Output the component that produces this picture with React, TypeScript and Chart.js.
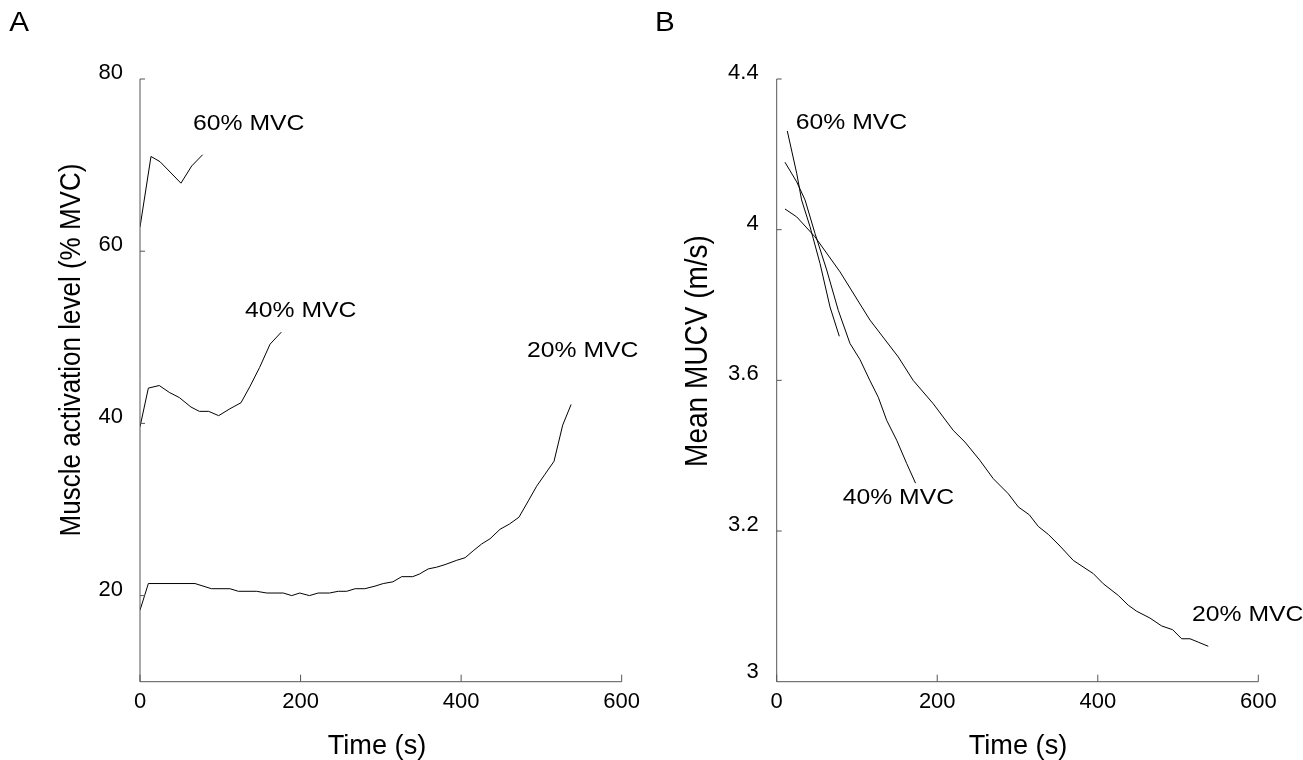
import React, { useEffect, useRef } from 'react';
import { Chart, registerables } from 'chart.js';

Chart.register(...registerables);

type Pt = { x: number; y: number };

// ---------- Data ----------
const seriesLabels = ['60% MVC', '40% MVC', '20% MVC'];
const timeTicks = [0, 200, 400, 600];

// Panel A: Muscle activation level (% MVC) vs time (s)
const activation60: Pt[] = [
  { x: 0, y: 62.8 }, { x: 13.7, y: 71.0 }, { x: 24.9, y: 70.4 }, { x: 51, y: 67.9 },
  { x: 64.4, y: 69.9 }, { x: 78, y: 71.2 },
];
const activation40: Pt[] = [
  { x: 0, y: 39.6 }, { x: 10.4, y: 44.1 }, { x: 24, y: 44.4 }, { x: 36.5, y: 43.6 },
  { x: 49, y: 43.0 }, { x: 63.5, y: 41.9 }, { x: 73.9, y: 41.4 }, { x: 85.5, y: 41.4 },
  { x: 98, y: 40.9 }, { x: 112, y: 41.7 }, { x: 125.8, y: 42.4 }, { x: 137, y: 44.3 },
  { x: 149, y: 46.5 }, { x: 162, y: 49.2 }, { x: 176, y: 50.6 },
];
const activation20: Pt[] = [
  { x: 0, y: 18.3 }, { x: 10.4, y: 21.4 }, { x: 68.5, y: 21.4 }, { x: 89, y: 20.8 },
  { x: 112, y: 20.8 }, { x: 122.5, y: 20.5 }, { x: 145, y: 20.5 }, { x: 158, y: 20.3 },
  { x: 178.5, y: 20.3 }, { x: 189, y: 20.0 }, { x: 199, y: 20.3 }, { x: 211, y: 20.0 },
  { x: 222, y: 20.3 }, { x: 236, y: 20.3 }, { x: 247, y: 20.5 }, { x: 257.5, y: 20.5 },
  { x: 268, y: 20.8 }, { x: 280, y: 20.8 }, { x: 292.7, y: 21.1 }, { x: 303, y: 21.4 },
  { x: 315, y: 21.6 }, { x: 326, y: 22.2 }, { x: 339.7, y: 22.2 }, { x: 348, y: 22.5 },
  { x: 359, y: 23.1 }, { x: 369.5, y: 23.3 }, { x: 380, y: 23.6 }, { x: 394.5, y: 24.1 },
  { x: 405, y: 24.4 }, { x: 415, y: 25.2 }, { x: 425.6, y: 26.0 }, { x: 436, y: 26.6 },
  { x: 448.4, y: 27.7 }, { x: 460, y: 28.3 }, { x: 472, y: 29.1 }, { x: 483.7, y: 31.0 },
  { x: 494, y: 32.7 }, { x: 504.5, y: 34.1 }, { x: 515.7, y: 35.6 }, { x: 526.5, y: 39.8 },
  { x: 537, y: 42.2 },
];
const yTickValuesA = [20, 40, 60, 80];
const yTickLabelsA = ['20', '40', '60', '80'];
const yTickMarksA = [20, 40, 60, 80];

// Panel B: Mean MUCV (m/s) vs time (s)
const mucv60: Pt[] = [
  { x: 13.2, y: 4.262 }, { x: 24.9, y: 4.15 }, { x: 31, y: 4.079 }, { x: 41.5, y: 4.008 },
  { x: 54, y: 3.91 }, { x: 66.4, y: 3.795 }, { x: 78, y: 3.717 },
];
const mucv40: Pt[] = [
  { x: 10.3, y: 4.179 }, { x: 24.9, y: 4.127 }, { x: 35.3, y: 4.079 }, { x: 47.7, y: 3.99 },
  { x: 62.3, y: 3.893 }, { x: 76.7, y: 3.786 }, { x: 91.3, y: 3.698 }, { x: 103.8, y: 3.655 },
  { x: 116, y: 3.6 }, { x: 126.6, y: 3.555 }, { x: 137, y: 3.494 }, { x: 149.5, y: 3.441 },
  { x: 162, y: 3.379 }, { x: 173, y: 3.327 },
];
const mucv20: Pt[] = [
  { x: 10.3, y: 4.055 }, { x: 24.9, y: 4.034 }, { x: 47.7, y: 3.981 }, { x: 78.9, y: 3.888 },
  { x: 116.2, y: 3.76 }, { x: 151.5, y: 3.662 }, { x: 170, y: 3.6 }, { x: 195, y: 3.538 },
  { x: 220, y: 3.467 }, { x: 234.6, y: 3.436 }, { x: 253, y: 3.388 }, { x: 269.8, y: 3.339 },
  { x: 288.5, y: 3.299 }, { x: 301, y: 3.264 }, { x: 314.7, y: 3.243 }, { x: 326, y: 3.212 },
  { x: 338.4, y: 3.191 }, { x: 353, y: 3.16 }, { x: 369.5, y: 3.122 }, { x: 394.4, y: 3.087 },
  { x: 406.9, y: 3.06 }, { x: 425.6, y: 3.029 }, { x: 438, y: 3.003 }, { x: 448.5, y: 2.987 },
  { x: 465, y: 2.969 }, { x: 479.6, y: 2.948 }, { x: 493.3, y: 2.938 }, { x: 504.5, y: 2.914 },
  { x: 514.9, y: 2.914 }, { x: 525.2, y: 2.905 }, { x: 537.7, y: 2.894 },
];
const yTickValuesB = [2.81, 3.2, 3.6, 4, 4.4];
const yTickLabelsB = ['3', '3.2', '3.6', '4', '4.4'];
const yTickMarksB = [3.2, 3.6, 4, 4.4];

// ---------- Styling / layout ----------
const FONT = '"Liberation Sans", Arial, Helvetica, sans-serif';
const STRETCH = 1.1;
const H = 760;

function drawText(
  ctx: CanvasRenderingContext2D, text: string, x: number, y: number, size: number,
  align: CanvasTextAlign, baseline: CanvasTextBaseline, stretch: number, rotate = false,
) {
  ctx.save();
  ctx.translate(x, y);
  ctx.scale(stretch, 1);
  if (rotate) ctx.rotate(-Math.PI / 2);
  ctx.font = `${size}px ${FONT}`;
  ctx.fillStyle = '#000';
  ctx.textAlign = align;
  ctx.textBaseline = baseline;
  ctx.fillText(text, 0, 0);
  ctx.restore();
}

function buildConfig(spec: any) {
  const overlay = {
    id: 'overlay-' + spec.letter,
    afterDraw(chart: any) {
      const { ctx, chartArea } = chart;
      const xs = chart.scales.x;
      const ys = chart.scales.y;
      ctx.save();
      ctx.strokeStyle = '#555';
      ctx.lineWidth = 1;
      ctx.beginPath();
      ctx.moveTo(chartArea.left, chartArea.top);
      ctx.lineTo(chartArea.left, chartArea.bottom);
      ctx.lineTo(chartArea.right, chartArea.bottom);
      for (const v of timeTicks) {
        const px = xs.getPixelForValue(v);
        ctx.moveTo(px, chartArea.bottom);
        ctx.lineTo(px, chartArea.bottom - 7);
      }
      for (const v of spec.yTickMarks) {
        const py = ys.getPixelForValue(v);
        ctx.moveTo(chartArea.left, py);
        ctx.lineTo(chartArea.left + 5, py);
      }
      ctx.stroke();
      ctx.restore();

      spec.labels.forEach((l: any, i: number) => {
        drawText(ctx, seriesLabels[i], xs.getPixelForValue(l.x), ys.getPixelForValue(l.y),
          22.5, 'left', 'alphabetic', STRETCH);
      });
      drawText(ctx, spec.yTitle, spec.yTitlePos.x, spec.yTitlePos.y, spec.yTitleSize,
        'center', 'middle', STRETCH, true);
      drawText(ctx, 'Time (s)', spec.xTitleX, 754, 28, 'center', 'alphabetic', 0.97);
      drawText(ctx, spec.letter, spec.letterX, 30.7, 27, 'left', 'alphabetic', STRETCH);
    },
  };

  const tickFont = { family: FONT, size: 22 };
  return {
    type: 'line',
    data: {
      datasets: spec.series.map((d: Pt[], i: number) => ({
        label: seriesLabels[i],
        data: d,
        borderColor: '#000',
        borderWidth: 1,
        pointRadius: 0,
        fill: false,
        tension: 0,
      })),
    },
    options: {
      responsive: false,
      animation: false,
      devicePixelRatio: 1,
      layout: { padding: { left: 0, top: spec.area.top, right: spec.width - spec.area.right, bottom: 0 } },
      plugins: { legend: { display: false }, tooltip: { enabled: false }, title: { display: false } },
      scales: {
        x: {
          type: 'linear',
          min: 0,
          max: 600,
          afterBuildTicks: (s: any) => { s.ticks = timeTicks.map((v) => ({ value: v })); },
          afterFit: (s: any) => { s.height = H - spec.area.bottom; },
          grid: { display: false, drawTicks: false },
          border: { display: false },
          ticks: { font: tickFont, color: '#000', padding: 7, maxRotation: 0, autoSkip: false },
        },
        y: {
          type: 'linear',
          min: spec.yMin,
          max: spec.yMax,
          afterBuildTicks: (s: any) => { s.ticks = spec.yTickValues.map((v: number) => ({ value: v })); },
          afterFit: (s: any) => { s.width = spec.area.left; },
          grid: { display: false, drawTicks: false },
          border: { display: false },
          ticks: {
            font: tickFont, color: '#000', padding: spec.yPad, labelOffset: -6, autoSkip: false,
            callback: (_v: any, i: number) => spec.yTickLabels[i],
          },
        },
      },
    },
    plugins: [overlay],
  } as any;
}

const panelA = {
  letter: 'A', letterX: 9.3, width: 650,
  area: { left: 140, right: 621.7, top: 79, bottom: 681.7 },
  yMin: 10, yMax: 80, yTickValues: yTickValuesA, yTickLabels: yTickLabelsA, yTickMarks: yTickMarksA, yPad: 17,
  series: [activation60, activation40, activation20],
  labels: [{ x: 66, y: 74.1 }, { x: 130.8, y: 52.4 }, { x: 482, y: 47.7 }],
  yTitle: 'Muscle activation level (% MVC)', yTitlePos: { x: 71.8, y: 350 }, yTitleSize: 26,
  xTitleX: 377,
};

const panelB = {
  letter: 'B', letterX: 5, width: 653,
  area: { left: 126.7, right: 608.3, top: 79, bottom: 681.7 },
  yMin: 2.8, yMax: 4.4, yTickValues: yTickValuesB, yTickLabels: yTickLabelsB, yTickMarks: yTickMarksB, yPad: 18,
  series: [mucv60, mucv40, mucv20],
  labels: [{ x: 23.7, y: 4.266 }, { x: 82.2, y: 3.271 }, { x: 517.5, y: 2.961 }],
  yTitle: 'Mean MUCV (m/s)', yTitlePos: { x: 48.6, y: 351 }, yTitleSize: 28,
  xTitleX: 368,
};

export default function App() {
  const refA = useRef<HTMLCanvasElement>(null);
  const refB = useRef<HTMLCanvasElement>(null);

  useEffect(() => {
    document.body.style.margin = '0';
    document.body.style.overflow = 'hidden';
    const a = new Chart(refA.current as HTMLCanvasElement, buildConfig(panelA));
    const b = new Chart(refB.current as HTMLCanvasElement, buildConfig(panelB));
    return () => {
      a.destroy();
      b.destroy();
    };
  }, []);

  return (
    <div style={{ position: 'relative', width: 1303, height: H, overflow: 'hidden', background: '#fff' }}>
      <canvas ref={refA} width={650} height={H}
        style={{ position: 'absolute', left: 0, top: 0, width: 650, height: H }} />
      <canvas ref={refB} width={653} height={H}
        style={{ position: 'absolute', left: 650, top: 0, width: 653, height: H }} />
    </div>
  );
}
